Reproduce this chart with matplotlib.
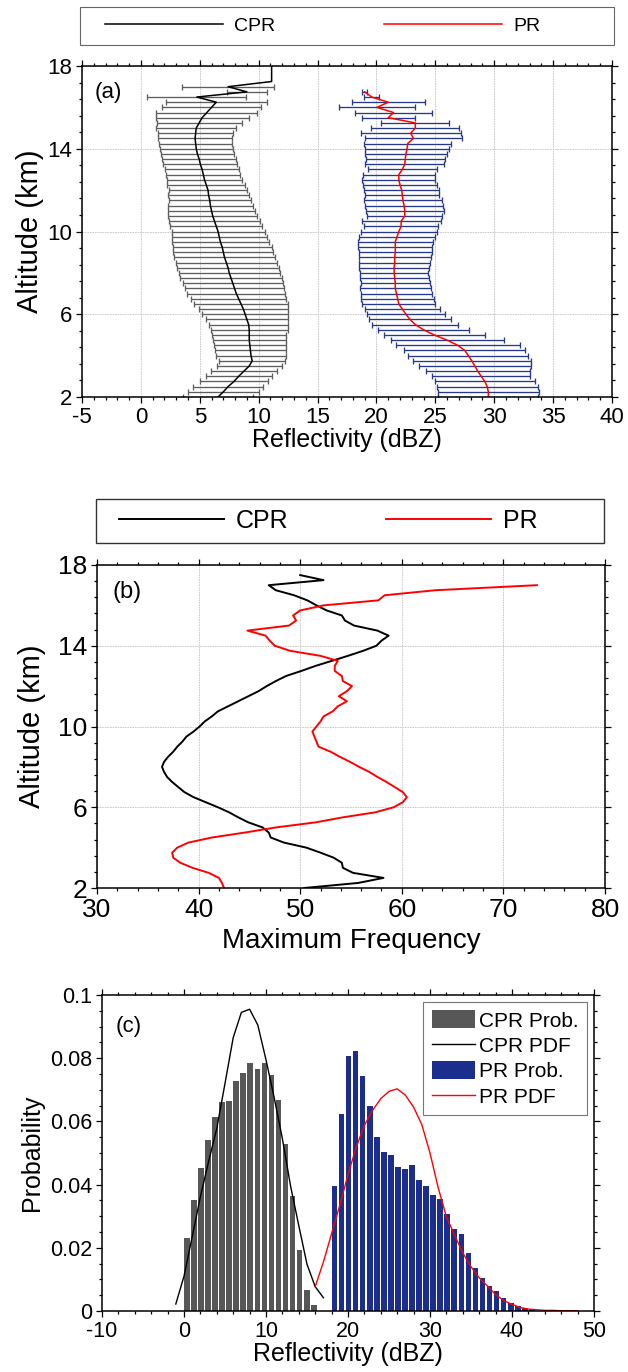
import numpy as np
import matplotlib
matplotlib.use('Agg')
import matplotlib.pyplot as plt
from matplotlib.ticker import MultipleLocator, FixedLocator, FuncFormatter
from matplotlib.patches import Rectangle, Patch
from matplotlib.lines import Line2D

plt.rcParams['font.family'] = ['Liberation Sans', 'DejaVu Sans']
plt.rcParams['axes.unicode_minus'] = False

# ---------------- (a) mean reflectivity profile +- std, 0.25 km levels
alt_cpr_a = np.arange(2.0, 18.01, 0.25)
cpr_mean = np.array([6.55, 7.0, 7.4, 7.9, 8.3, 8.75, 9.2, 9.45, 9.35, 9.3,
                     9.25, 9.2, 9.2, 9.2, 9.15, 9.0, 8.85, 8.7, 8.5, 8.3,
                     8.1, 7.95, 7.8, 7.65, 7.5, 7.4, 7.25, 7.1, 7.0, 6.9,
                     6.75, 6.65, 6.55, 6.4, 6.25, 6.1, 6.0, 5.9, 5.85, 5.75,
                     5.7, 5.55, 5.4, 5.3, 5.2, 5.05, 4.95, 4.8, 4.7, 4.65,
                     4.6, 4.65, 4.7, 4.95, 5.2, 5.6, 6.0, 6.4, 4.75, 9.0,
                     7.4, 11.1, 11.1, 11.1, 11.1])
cpr_std = np.array([3.0, 3.0, 2.95, 2.85, 2.8, 2.8, 2.75, 2.8, 2.95, 3.0,
                    3.05, 3.1, 3.15, 3.25, 3.35, 3.5, 3.65, 3.8, 3.95, 4.05,
                    4.15, 4.2, 4.25, 4.3, 4.3, 4.3, 4.3, 4.25, 4.25, 4.2,
                    4.15, 4.05, 3.95, 3.9, 3.85, 3.8, 3.7, 3.6, 3.5, 3.45,
                    3.35, 3.3, 3.2, 3.15, 3.15, 3.15, 3.15, 3.1, 3.1, 3.1,
                    3.15, 3.2, 3.4, 3.6, 3.95, 4.3, 4.2, 4.3, 4.2, 1.7,
                    3.9, np.nan, np.nan, np.nan, np.nan])

alt_pr_a = np.arange(2.0, 16.76, 0.25)
pr_mean = np.array([29.5, 29.5, 29.4, 29.2, 28.9, 28.6, 28.35, 28.1, 27.8, 27.5,
                    26.9, 26.0, 24.9, 24.0, 23.3, 22.85, 22.5, 22.2, 21.9, 21.8,
                    21.7, 21.6, 21.6, 21.55, 21.5, 21.5, 21.55, 21.55, 21.6, 21.6,
                    21.6, 21.75, 21.9, 22.1, 22.1, 22.4, 22.4, 22.35, 22.25, 22.2,
                    22.15, 22.0, 21.9, 21.9, 22.2, 22.4, 22.45, 22.5, 22.6, 22.65,
                    23.15, 22.9, 23.3, 23.3, 21.0, 21.45, 20.05, 21.0, 19.6, 19.0])
pr_std = np.array([4.25, 4.3, 4.3, 4.25, 4.15, 4.4, 4.75, 5.0, 5.1, 5.15,
                   5.25, 4.8, 4.3, 3.9, 3.65, 3.45, 3.3, 3.2, 3.1, 3.1,
                   3.0, 3.0, 2.95, 2.95, 2.9, 3.0, 3.0, 3.05, 3.1, 3.15,
                   3.2, 3.25, 3.25, 3.15, 3.35, 3.2, 3.3, 3.3, 3.3, 3.15,
                   3.2, 3.15, 3.1, 3.05, 2.95, 3.35, 3.35, 3.45, 3.55, 3.7,
                   4.1, 4.25, 3.75, 2.9, 2.25, 3.3, 3.2, 3.1, 0.65, 0.2])

# ---------------- (b) maximum frequency profile
alt_cpr_b = np.arange(2.0, 17.51, 0.25)
cpr_maxfreq = [50.4, 55.7, 58.2, 55.2, 54.2, 54.1, 53.3, 52.0, 50.6, 48.4,
               47.1, 46.9, 46.3, 44.9, 43.9, 43.0, 41.9, 40.7, 39.5, 38.6,
               38.0, 37.4, 36.9, 36.6, 36.4, 36.6, 37.0, 37.5, 37.9, 38.4,
               38.8, 39.5, 40.1, 40.6, 41.3, 41.9, 42.9, 43.9, 44.9, 45.9,
               46.7, 47.6, 48.6, 50.1, 51.5, 53.1, 54.7, 56.2, 57.5, 58.0,
               58.7, 57.6, 55.3, 54.4, 54.1, 52.6, 51.6, 50.7, 49.4, 47.6,
               46.9, 52.3, 50.0]
alt_pr_b = np.arange(2.0, 17.01, 0.25)
pr_maxfreq = [42.5, 42.3, 42.0, 41.0, 39.4, 38.2, 37.5, 37.4, 37.9, 39.0,
              41.3, 44.6, 47.6, 51.5, 54.2, 57.4, 59.2, 60.1, 60.5, 60.1,
              59.3, 58.5, 57.6, 56.8, 55.8, 54.9, 53.9, 53.0, 51.8, 51.6,
              51.4, 51.2, 51.6, 52.0, 52.3, 53.2, 53.7, 54.6, 53.8, 54.6,
              55.1, 54.2, 54.1, 53.4, 53.4, 53.7, 52.0, 49.0, 47.5, 47.0,
              46.6, 44.8, 48.9, 49.6, 49.3, 50.0, 52.3, 57.7, 58.3, 63.3,
              73.3]

# ---------------- (c) reflectivity histograms and fitted PDFs
bin_w = 0.86
cpr_left = np.round(0.0 + bin_w * np.arange(19), 2)
cpr_prob = [0.0232, 0.035, 0.0453, 0.054, 0.0615, 0.066, 0.0665, 0.0728, 0.0752, 0.0785,
            0.0765, 0.0786, 0.0748, 0.0668, 0.0527, 0.0363, 0.0192, 0.0068, 0.0018]
pr_left = np.round(18.0 + bin_w * np.arange(29), 2)
pr_prob = [0.0395, 0.0625, 0.0806, 0.0824, 0.0744, 0.0648, 0.0552, 0.0503, 0.0493, 0.0455,
           0.0448, 0.0462, 0.0416, 0.0395, 0.0366, 0.0356, 0.0308, 0.026, 0.0244, 0.0182,
           0.0137, 0.0105, 0.0079, 0.0063, 0.004, 0.0026, 0.0016, 0.001, 0.0007]
cpr_pdf_x = np.arange(-1, 18)
cpr_pdf = [0.0022, 0.011, 0.0235, 0.0362, 0.0473, 0.0578, 0.072, 0.0865, 0.0945, 0.0955,
           0.0905, 0.0795, 0.0675, 0.0545, 0.0395, 0.027, 0.0148, 0.0077, 0.0042]
pr_pdf_x = np.arange(16, 49)
pr_pdf = [0.0077, 0.0155, 0.0245, 0.0335, 0.0432, 0.0518, 0.0588, 0.0635, 0.0672, 0.0695,
          0.0703, 0.0683, 0.0645, 0.059, 0.05, 0.039, 0.0298, 0.024, 0.0184, 0.014,
          0.0105, 0.0079, 0.0052, 0.0033, 0.0021, 0.0011, 0.0006, 0.0004, 0.0002, 0.0002,
          0.0001, 0.0001, 0.0001]

W, H = 628, 1372
fig = plt.figure(figsize=(W / 100, H / 100), dpi=100)


def box(x0, y0, x1, y1):
    # pixel box (from top-left) -> figure fraction
    return [x0 / W, 1 - y1 / H, (x1 - x0) / W, (y1 - y0) / H]


def style(ax, size):
    ax.tick_params(which='both', direction='out', top=True, right=True,
                   width=0.9, labelsize=size, pad=3)
    ax.tick_params(which='major', length=4)
    ax.tick_params(which='minor', length=2.2)
    for s in ax.spines.values():
        s.set_linewidth(1.1)


grid_kw = dict(color='#c4c4c4', linewidth=0.6, linestyle=(0, (2, 1)))

# ---------------- panel (a)
ax1 = fig.add_axes(box(82, 66, 612, 397))
ok = np.isfinite(cpr_std)
ax1.errorbar(cpr_mean[ok], alt_cpr_a[ok], xerr=cpr_std[ok], fmt='none',
             ecolor='#5e5e5e', elinewidth=0.95, capsize=2.0, capthick=0.95)
ax1.errorbar(pr_mean, alt_pr_a, xerr=pr_std, fmt='none',
             ecolor='#26398a', elinewidth=0.95, capsize=2.0, capthick=0.95)
l1, = ax1.plot(cpr_mean, alt_cpr_a, color='black', lw=1.1, label='CPR')
l2, = ax1.plot(pr_mean, alt_pr_a, color='red', lw=1.1, label='PR')
ax1.set_xlim(-5, 40)
ax1.set_ylim(2, 18)
ax1.set_xticks(np.arange(-5, 41, 5))
ax1.set_yticks([2, 6, 10, 14, 18])
ax1.xaxis.set_minor_locator(MultipleLocator(1))
ax1.yaxis.set_minor_locator(FixedLocator(np.arange(2, 18.01, 0.8)))
ax1.grid(True, which='major', **grid_kw)
ax1.set_axisbelow(True)
style(ax1, 16)
ax1.set_xlabel('Reflectivity (dBZ)', fontsize=18)
ax1.set_ylabel('Altitude (km)', fontsize=21)
ax1.xaxis.set_label_coords(0.5, -0.094)
ax1.yaxis.set_label_coords(-0.071, 0.5)
ax1.text(0.023, 0.92, '(a)', transform=ax1.transAxes, fontsize=16, va='center')

fig.add_artist(Rectangle((80 / W, 1 - 45 / H), 534 / W, 38 / H, transform=fig.transFigure,
                         fill=False, edgecolor='#666666', lw=0.8))
fig.legend(handles=[l1, l2], loc='center left', bbox_to_anchor=(105 / W, 1 - 26 / H),
           ncol=2, frameon=False, fontsize=14, handlelength=6.07, handletextpad=0.57,
           columnspacing=5.6, borderpad=0, borderaxespad=0)

# ---------------- panel (b)
ax2 = fig.add_axes(box(97, 565, 605, 888))
m1, = ax2.plot(cpr_maxfreq, alt_cpr_b, color='black', lw=1.4, label='CPR')
m2, = ax2.plot(pr_maxfreq, alt_pr_b, color='red', lw=1.4, label='PR')
ax2.set_xlim(30, 80)
ax2.set_ylim(2, 18)
ax2.set_xticks(np.arange(30, 81, 10))
ax2.set_yticks([2, 6, 10, 14, 18])
ax2.xaxis.set_minor_locator(MultipleLocator(2))
ax2.yaxis.set_minor_locator(FixedLocator(np.arange(2, 18.01, 0.8)))
ax2.grid(True, which='major', **grid_kw)
ax2.set_axisbelow(True)
style(ax2, 19)
ax2.set_xlabel('Maximum Frequency', fontsize=20)
ax2.set_ylabel('Altitude (km)', fontsize=21)
ax2.xaxis.set_label_coords(0.5, -0.124)
ax2.yaxis.set_label_coords(-0.101, 0.5)
ax2.text(0.031, 0.916, '(b)', transform=ax2.transAxes, fontsize=17, va='center')

fig.add_artist(Rectangle((96 / W, 1 - 543 / H), 508 / W, 44 / H, transform=fig.transFigure,
                         fill=False, edgecolor='#333333', lw=1.0))
fig.legend(handles=[m1, m2], loc='center left', bbox_to_anchor=(119 / W, 1 - 521 / H),
           ncol=2, frameon=False, fontsize=18, handlelength=4.2, handletextpad=0.48,
           columnspacing=3.9, borderpad=0, borderaxespad=0)

# ---------------- panel (c)
ax3 = fig.add_axes(box(102, 995, 594, 1311))
ax3.bar(cpr_left, cpr_prob, width=bin_w * 0.8, align='edge', color='#575757')
ax3.bar(pr_left, pr_prob, width=bin_w * 0.8, align='edge', color='#1b2e8e')
ax3.plot(cpr_pdf_x, cpr_pdf, color='black', lw=1.0)
ax3.plot(pr_pdf_x, pr_pdf, color='red', lw=1.0)
ax3.set_xlim(-10, 50)
ax3.set_ylim(0, 0.1)
ax3.set_xticks(np.arange(-10, 51, 10))
ax3.set_yticks(np.arange(0, 0.101, 0.02))
ax3.xaxis.set_minor_locator(MultipleLocator(2))
ax3.yaxis.set_minor_locator(MultipleLocator(0.005))
ax3.yaxis.set_major_formatter(FuncFormatter(lambda v, p: '0' if abs(v) < 1e-9 else '%g' % round(v, 3)))
style(ax3, 15.5)
ax3.set_xlabel('Reflectivity (dBZ)', fontsize=18)
ax3.set_ylabel('Probability', fontsize=18)
ax3.xaxis.set_label_coords(0.5, -0.098)
ax3.yaxis.set_label_coords(-0.118, 0.5)
ax3.text(0.028, 0.9, '(c)', transform=ax3.transAxes, fontsize=16, va='center')

handles = [Patch(facecolor='#575757', label='CPR Prob.'),
           Line2D([], [], color='black', lw=1.0, label='CPR PDF'),
           Patch(facecolor='#1b2e8e', label='PR Prob.'),
           Line2D([], [], color='red', lw=1.0, label='PR PDF')]
leg = ax3.legend(handles=handles, loc='upper right', bbox_to_anchor=(1, 1),
                 borderaxespad=0.34, fontsize=15, handlelength=2.07, handleheight=0.95,
                 handletextpad=0.2, labelspacing=0.25, borderpad=0.4,
                 fancybox=False, edgecolor='#777777', framealpha=1)
leg.get_frame().set_linewidth(0.8)

fig.savefig('out.png', dpi=100)
